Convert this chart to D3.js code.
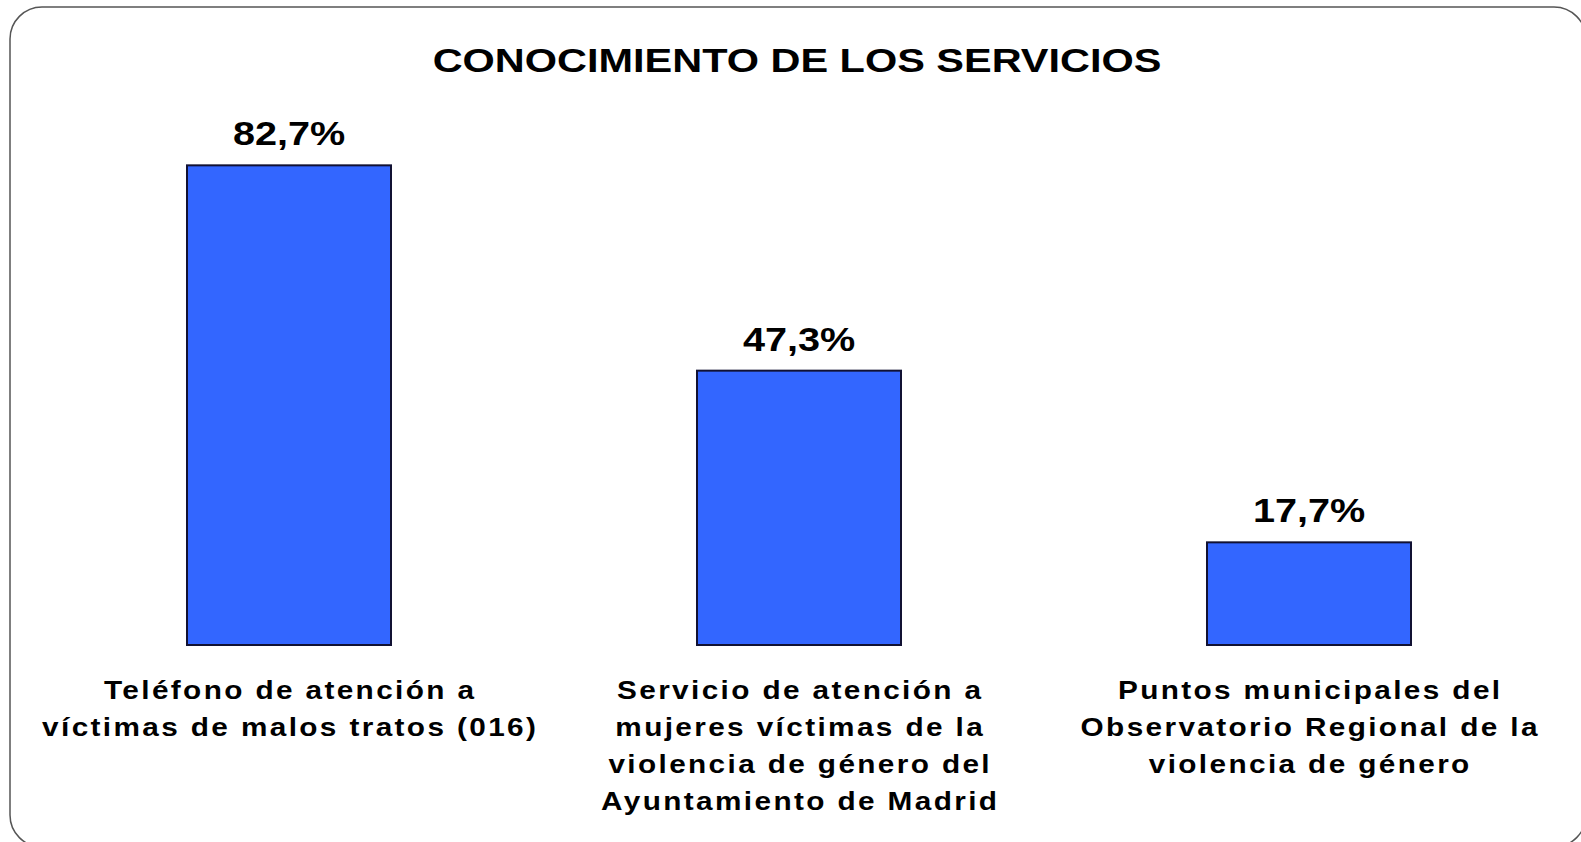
<!DOCTYPE html>
<html><head><meta charset="utf-8">
<script src="https://cdn.jsdelivr.net/npm/d3@7"></script>
<style>
html,body{margin:0;padding:0;background:#fff;}
svg{display:block;}
text{font-family:"Liberation Sans",Arial,sans-serif;font-weight:bold;fill:#000;}
</style></head>
<body>
<svg id="chart" width="1581" height="842"></svg>
<script>
const title = "CONOCIMIENTO DE LOS SERVICIOS";
const categories = ["Teléfono", "Servicio", "Puntos"];
const categoryLines = [
  ["Teléfono de atención a", "víctimas de malos tratos (016)"],
  ["Servicio de atención a", "mujeres víctimas de la", "violencia de género del", "Ayuntamiento de Madrid"],
  ["Puntos municipales del", "Observatorio Regional de la", "violencia de género"]
];
const values = [82.7, 47.3, 17.7];
const valueLabels = ["82,7%", "47,3%", "17,7%"];

const svg = d3.select("#chart");
svg.append("rect").attr("x",10).attr("y",7).attr("width",1576).attr("height",840)
  .attr("rx",32).attr("fill","#fff").attr("stroke","#555").attr("stroke-width",1.5);

const x = d3.scaleBand().domain(categories).range([34,1564]).paddingInner(0.6).paddingOuter(0.3);
const y = d3.scaleLinear().domain([0,100]).range([645,65]);

svg.append("text").attr("transform","translate(797,72) scale(1.22,1)").attr("text-anchor","middle")
  .style("font-size","34px").text(title);

svg.selectAll("rect.bar").data(values).join("rect").attr("class","bar")
  .attr("x",(d,i)=>x(categories[i])).attr("width",x.bandwidth())
  .attr("y",d=>y(d)).attr("height",d=>y(0)-y(d))
  .attr("fill","#3366ff").attr("stroke","#111133").attr("stroke-width",2);

svg.selectAll("text.val").data(values).join("text").attr("class","val")
  .attr("transform",(d,i)=>`translate(${x(categories[i])+x.bandwidth()/2},${y(d)-20}) scale(1.2,1)`)
  .attr("text-anchor","middle").style("font-size","33px")
  .text((d,i)=>valueLabels[i]);

const axis = svg.append("g").attr("transform","translate(0,645)")
  .call(d3.axisBottom(x).tickSize(0).tickFormat(""));
axis.select(".domain").remove();
axis.selectAll(".tick").each(function(d,i){
  const t = d3.select(this).append("text").attr("text-anchor","middle")
    .attr("transform","scale(1.19,1)")
    .attr("fill","#000").style("font-size","25px").style("letter-spacing","2px");
  categoryLines[i].forEach((ln,j)=>{
    t.append("tspan").attr("x",1).attr("y",54+j*37).text(ln);
  });
});
</script>
</body></html>
